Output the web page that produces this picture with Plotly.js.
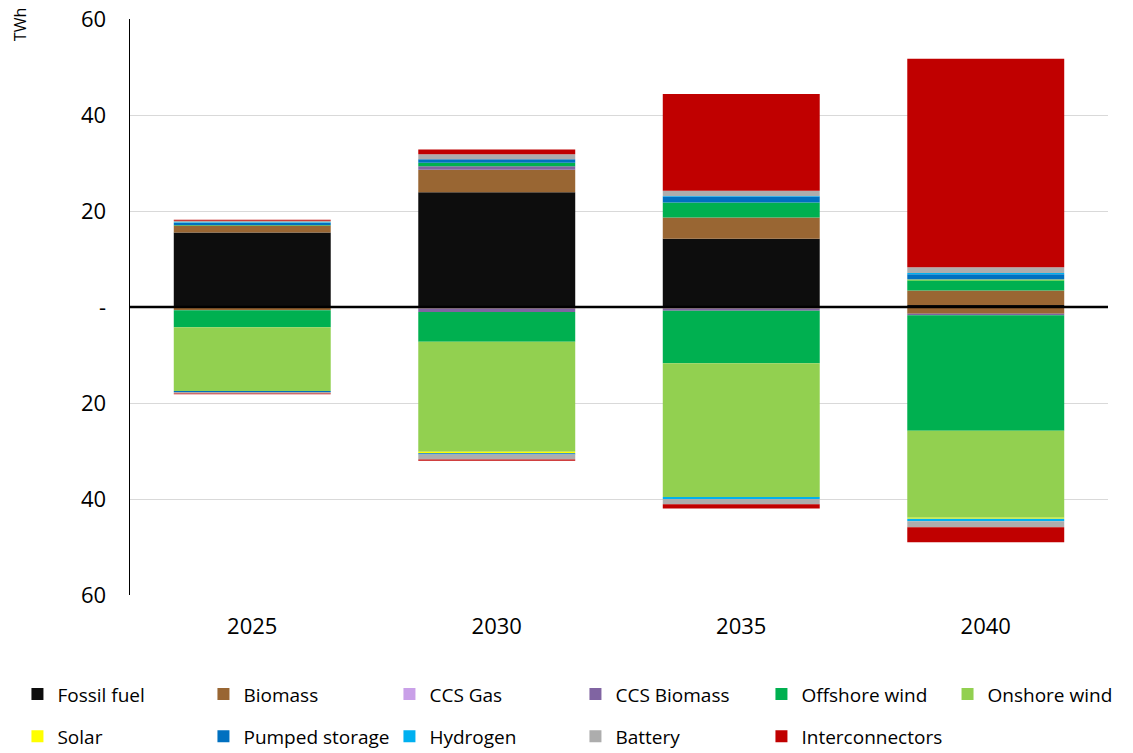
<!DOCTYPE html>
<html><head><meta charset="utf-8">
<script src="https://cdn.plot.ly/plotly-3.0.1.min.js"></script>
<style>html,body{margin:0;padding:0;background:#fff}#chart{width:1133px;height:753px}</style>
</head><body><div id="chart"></div><script>
// ---- data (TWh) ----
const years = ['2025', '2030', '2035', '2040'];
const seriesNames = ['Fossil fuel', 'Biomass', 'CCS Gas', 'CCS Biomass', 'Offshore wind', 'Onshore wind',
                     'Solar', 'Pumped storage', 'Hydrogen', 'Battery', 'Interconnectors'];
// positive parts
const fossilUp          = [15.5, 23.9, 14.2, 0.4];
const biomassUp         = [1.5, 4.7, 4.45, 3.05];
const ccsGasUp          = [0, 0, 0, 0];
const ccsBiomassUp      = [0, 0.7, 0, 0];
const offshoreUp        = [0.1, 0.75, 3.1, 2.1];
const onshoreUp         = [0, 0, 0, 0];
const solarUp           = [0, 0, 0, 0.2];
const pumpedUp          = [0.4, 0.75, 1.25, 1.05];
const hydrogenUp        = [0.15, 0, 0.1, 0.3];
const batteryUp         = [0.3, 1.0, 1.1, 1.2];
const interconnectorsUp = [0.25, 1.0, 20.2, 43.4];
// negative parts
const fossilDown          = [0, 0, 0, 0];
const biomassDown         = [-0.6, -0.3, -0.3, -1.4];
const ccsGasDown          = [0, 0, 0, 0];
const ccsBiomassDown      = [-0.1, -0.75, -0.5, -0.3];
const offshoreDown        = [-3.5, -6.2, -10.9, -24.1];
const onshoreDown         = [-13.3, -22.9, -27.9, -18.1];
const solarDown           = [0, -0.3, 0, -0.2];
const pumpedDown          = [-0.2, -0.3, 0, 0];
const hydrogenDown        = [0, 0, -0.4, -0.55];
const batteryDown         = [-0.3, -1.0, -1.1, -1.25];
const interconnectorsDown = [-0.2, -0.3, -0.9, -3.1];

const yTickVals = [-60, -40, -20, 0, 20, 40, 60];
const yTickText = ['60', '40', '20', '-', '20', '40', '60'];

// ---- styles ----
const colors = ['#0D0D0D', '#996633', '#C9A0E8', '#8064A2', '#00B050', '#92D050',
                '#FFFF00', '#0070C0', '#00B0F0', '#ADADAD', '#C00000'];
const legendOf = ['legend', 'legend', 'legend', 'legend', 'legend', 'legend3',
                  'legend2', 'legend2', 'legend2', 'legend2', 'legend2'];
const upSeries = [fossilUp, biomassUp, ccsGasUp, ccsBiomassUp, offshoreUp, onshoreUp,
                  solarUp, pumpedUp, hydrogenUp, batteryUp, interconnectorsUp];
const downSeries = [fossilDown, biomassDown, ccsGasDown, ccsBiomassDown, offshoreDown, onshoreDown,
                    solarDown, pumpedDown, hydrogenDown, batteryDown, interconnectorsDown];

const traces = [];
seriesNames.forEach((name, i) => {
  traces.push({type: 'bar', x: years, y: upSeries[i], name: name, legendgroup: name, legend: legendOf[i],
    marker: {color: colors[i], line: {width: 0}}, hoverinfo: 'name+y'});
});
seriesNames.forEach((name, i) => {
  traces.push({type: 'bar', x: years, y: downSeries[i], name: name, legendgroup: name, legend: legendOf[i],
    showlegend: false, marker: {color: colors[i], line: {width: 0}}, hoverinfo: 'name+y'});
});

const font = 'Open Sans, Liberation Sans, sans-serif';
const legendBase = {orientation: 'h', xanchor: 'left', yanchor: 'middle', entrywidth: 141,
  xref: 'container', yref: 'container',
  font: {family: font, size: 19, color: '#000'}, traceorder: 'normal', bgcolor: 'rgba(0,0,0,0)'};

const layout = {
  width: 1133, height: 753,
  margin: {l: 130, r: 25, t: 19, b: 158},
  paper_bgcolor: '#fff', plot_bgcolor: '#fff',
  barmode: 'relative', bargap: 0.358,
  font: {family: font, color: '#000'},
  xaxis: {type: 'category', showgrid: false, zeroline: false, showline: false, ticks: '',
    tickfont: {family: font, size: 22, color: '#000'}, ticklabelstandoff: 16},
  yaxis: {range: [-60, 60], tickvals: yTickVals, ticktext: yTickText, showgrid: true,
    gridcolor: '#D9D9D9', gridwidth: 1, zeroline: false, showline: true, linecolor: '#000',
    linewidth: 1.5, ticks: '', tickfont: {family: font, size: 22, color: '#000'}, ticklabelstandoff: 18},
  shapes: [{type: 'line', xref: 'paper', yref: 'y', x0: 0, x1: 1, y0: 0, y1: 0,
    line: {color: '#000', width: 2.5}, layer: 'above'}],
  annotations: [{text: 'TWh', xref: 'paper', yref: 'paper', x: -0.1125, y: 0.991, showarrow: false,
    textangle: -90, xanchor: 'center', yanchor: 'middle', font: {family: font, size: 16, color: '#000'}}],
  legend: Object.assign({}, legendBase, {x: 0.0154, y: 0.078}),
  legend3: Object.assign({}, legendBase, {x: 0.8363, y: 0.078}),
  legend2: Object.assign({}, legendBase, {x: 0.0154, y: 0.022}),
  showlegend: true
};

Plotly.newPlot('chart', traces, layout, {displayModeBar: false, staticPlot: true});
</script></body></html>
